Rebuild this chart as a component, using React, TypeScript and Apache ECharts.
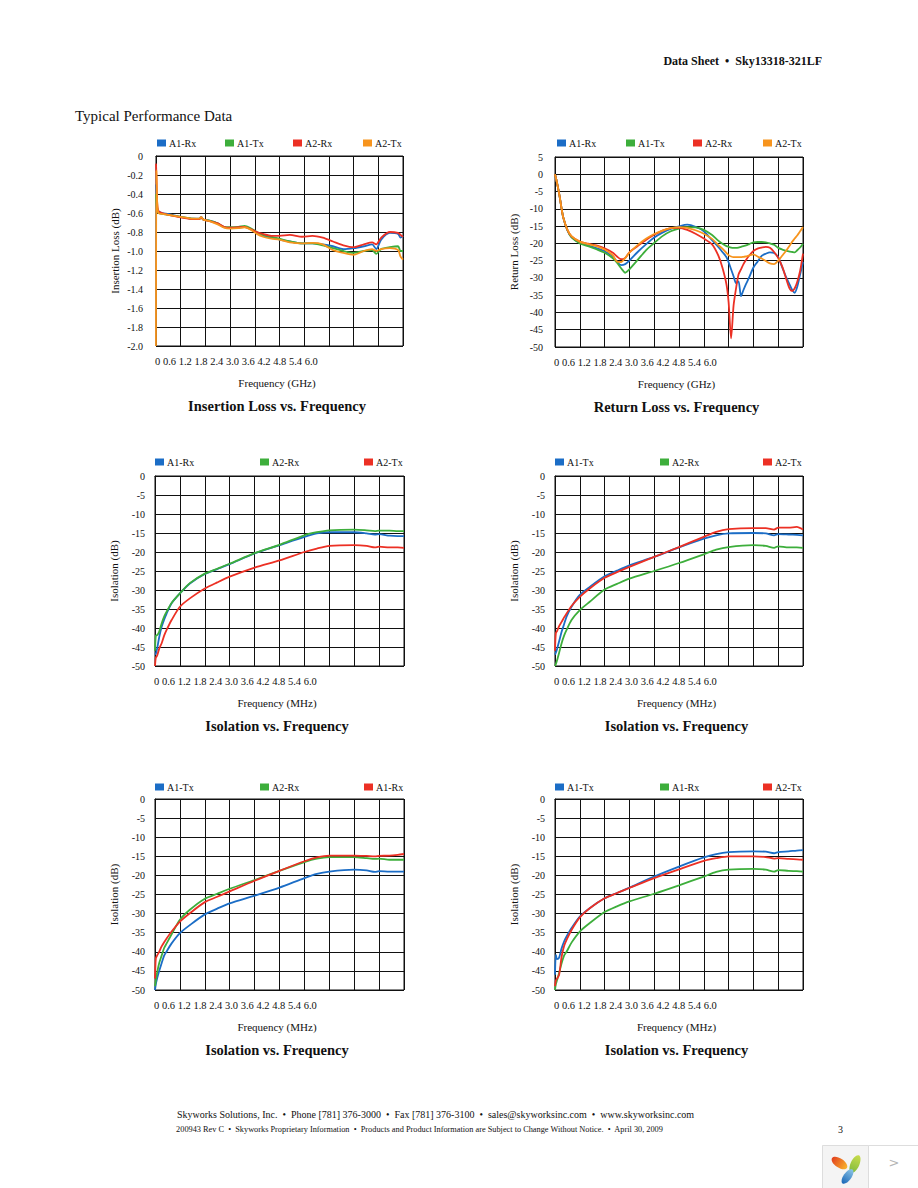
import React, { useEffect, useRef } from 'react';
import * as echarts from 'echarts';

// ---------- data ----------
const tickLabels = ['0', '0.6', '1.2', '1.8', '2.4', '3.0', '3.6', '4.2', '4.8', '5.4', '6.0'];

// Insertion loss (dB) vs frequency
const ilFreq = [0, 0.01, 0.03, 0.06, 0.15, 0.3, 0.6, 0.9, 1.05, 1.1, 1.15, 1.3, 1.5, 1.65, 1.8, 2.0, 2.15, 2.3, 2.45, 2.6, 2.8, 3.0, 3.25, 3.55, 3.8, 4.05, 4.3, 4.55, 4.8, 5.05, 5.25, 5.35, 5.47, 5.68, 5.88, 5.94, 6.0];
const ilA1Rx = [-0.3, -0.45, -0.55, -0.58, -0.6, -0.61, -0.64, -0.66, -0.66, -0.64, -0.67, -0.68, -0.71, -0.75, -0.76, -0.755, -0.745, -0.77, -0.81, -0.84, -0.86, -0.88, -0.9, -0.92, -0.92, -0.93, -0.95, -0.98, -0.97, -0.95, -0.93, -0.98, -0.88, -0.81, -0.82, -0.86, -0.84];
const ilA1Tx = [-0.4, -0.5, -0.58, -0.6, -0.61, -0.62, -0.64, -0.66, -0.665, -0.65, -0.67, -0.68, -0.71, -0.745, -0.75, -0.745, -0.735, -0.76, -0.8, -0.83, -0.85, -0.87, -0.9, -0.92, -0.92, -0.94, -0.97, -1.0, -1.02, -1.0, -0.99, -1.03, -0.98, -0.96, -0.95, -1.0, -1.0];
const ilA2Rx = [-0.08, -0.2, -0.5, -0.58, -0.6, -0.62, -0.645, -0.665, -0.665, -0.65, -0.67, -0.685, -0.71, -0.745, -0.755, -0.75, -0.745, -0.77, -0.8, -0.82, -0.84, -0.84, -0.83, -0.85, -0.84, -0.86, -0.9, -0.94, -0.96, -0.93, -0.91, -0.93, -0.86, -0.8, -0.81, -0.83, -0.85];
const ilA2Tx = [-2.0, -0.15, -0.5, -0.6, -0.61, -0.62, -0.64, -0.66, -0.66, -0.64, -0.67, -0.685, -0.72, -0.755, -0.765, -0.76, -0.75, -0.775, -0.82, -0.85, -0.87, -0.88, -0.91, -0.92, -0.915, -0.93, -0.99, -1.02, -1.04, -1.0, -0.98, -1.0, -0.98, -0.97, -0.99, -1.06, -1.09];

// Return loss (dB) vs frequency
const rlFreq = [0, 0.04, 0.08, 0.12, 0.16, 0.2, 0.3, 0.4, 0.6, 0.8, 1.0, 1.2, 1.4, 1.5, 1.6, 1.7, 1.8, 2.0, 2.2, 2.4, 2.6, 2.8, 3.0, 3.2, 3.4, 3.6, 3.8, 3.95, 4.05, 4.15, 4.2, 4.26, 4.32, 4.38, 4.44, 4.5, 4.56, 4.62, 4.7, 4.8, 4.9, 5.0, 5.1, 5.2, 5.3, 5.4, 5.5, 5.6, 5.68, 5.74, 5.8, 5.86, 5.93, 6.0];
const rlA1Rx = [0, -2, -4.3, -7, -10, -12.5, -16.2, -18.2, -19.8, -20.6, -21.4, -22.3, -23.8, -25.3, -26.3, -26, -25, -22.5, -20.3, -18.3, -16.9, -15.8, -15.1, -14.6, -15.2, -16.5, -19.1, -21, -22.5, -24, -25.5, -27.5, -29.5, -31.5, -31, -35.3, -33.5, -31.8, -29.8, -27, -25.3, -23.6, -23, -22.6, -22.8, -24, -27, -30, -32, -33.5, -34.3, -32.6, -29, -25.4];
const rlA1Tx = [0, -2, -4.3, -7, -10, -12.5, -16.2, -18.3, -20, -20.8, -21.7, -22.7, -24.3, -25.6, -27.2, -28.5, -27.5, -24.8, -22, -19.9, -17.9, -16.5, -15.7, -15.3, -15.4, -16.1, -17.6, -19.2, -20.1, -20.8, -21, -21.2, -21.3, -21.3, -21.2, -21, -20.8, -20.6, -20.2, -19.7, -19.6, -19.6, -19.7, -20, -20.4, -21.3, -21.8, -22.2, -22.4, -22.5, -22.6, -22, -21.2, -20.1];
const rlA2Rx = [0, -2, -4.3, -7, -10, -12.5, -16.1, -18, -19.5, -20.1, -20.6, -21.4, -22.7, -23.8, -24.6, -24.2, -22.6, -20.8, -19, -17.5, -16.3, -15.6, -15.5, -16.1, -17.2, -18.6, -20.3, -23.5, -27, -32, -37, -47.5, -38, -33, -29, -27.5, -26, -24.8, -23.5, -22.2, -21.5, -21.2, -21, -21.3, -22.5, -24.2, -26.8, -30.5, -33.2, -33.8, -33, -31.2, -28, -23];
const rlA2Tx = [0, -2, -4.3, -7, -10, -12.5, -16, -17.9, -19.5, -20.2, -20.8, -21.8, -23.5, -25.3, -25.4, -24.2, -22.7, -20.5, -18.7, -17.3, -16.3, -15.6, -15.3, -15.5, -16.2, -17.2, -18.7, -20.5, -21.5, -22.8, -23.4, -23.8, -24, -24, -24, -24, -23.9, -23.8, -23.5, -23.2, -23.8, -24.4, -25.1, -25.8, -26, -25, -23.5, -22, -20.6, -19.5, -18.6, -17.7, -16.5, -15.3];

// Isolation (dB) vs frequency
const isoFreq = [0, 0.02, 0.05, 0.1, 0.16, 0.22, 0.28, 0.4, 0.6, 0.84, 1.2, 1.5, 1.8, 2.4, 3.0, 3.6, 3.9, 4.2, 4.8, 5.1, 5.3, 5.4, 5.65, 5.85, 6.0];
// panel 3
const iso3A1Rx = [-47, -46.8, -45.5, -42.5, -39.7, -37.8, -36.2, -33.5, -30.9, -28.3, -25.8, -24.5, -23.2, -20.4, -18.2, -16, -15.1, -14.8, -14.8, -15.1, -15.4, -15.3, -15.7, -15.8, -15.8];
const iso3A2Rx = [-46, -42, -41.9, -41, -38.8, -37, -35.7, -33.4, -30.9, -28.2, -25.7, -24.4, -23.1, -20.3, -18.1, -15.6, -14.8, -14.3, -14.1, -14.3, -14.5, -14.4, -14.4, -14.5, -14.5];
const iso3A2Tx = [-50, -47.8, -47.3, -45.5, -44, -42, -40.5, -37.9, -34.4, -32.2, -29.6, -28, -26.5, -24.1, -22.2, -20, -19.1, -18.4, -18.2, -18.4, -18.8, -18.6, -18.8, -18.8, -18.9];
// panel 4
const iso4A1Tx = [-47, -46.5, -45.5, -43.5, -41, -39, -37, -34.4, -31.3, -29.2, -26.4, -24.9, -23.5, -21.3, -18.8, -16.5, -15.6, -15.1, -15, -15.1, -15.6, -15.3, -15.4, -15.5, -15.6];
const iso4A2Rx = [-50, -49.5, -48.5, -46.5, -44, -42, -40.5, -37.9, -35.3, -33.1, -29.9, -28.4, -27, -25, -22.9, -20.6, -19.4, -18.7, -18.2, -18.4, -18.9, -18.5, -18.8, -18.8, -18.9];
const iso4A2Tx = [-46, -41.4, -40.8, -39.5, -38.4, -37.2, -36.2, -34.2, -31.8, -29.6, -26.8, -25.3, -23.9, -21.3, -18.7, -16, -14.7, -14, -13.7, -13.7, -14.1, -13.6, -13.6, -13.4, -14.1];
// panel 5
const iso5A1Tx = [-50, -48.5, -47, -45, -43, -41, -39.9, -37.8, -35.1, -33, -30.2, -28.7, -27.3, -25.3, -23.2, -20.7, -19.6, -19, -18.5, -18.7, -19.1, -18.9, -19, -19, -19];
const iso5A2Rx = [-49, -47.5, -45.5, -43, -41, -39, -37.8, -35.4, -31.6, -29, -26.1, -24.8, -23.5, -21.2, -18.8, -16.5, -15.6, -15.2, -15.2, -15.5, -15.7, -15.6, -15.9, -15.9, -15.9];
const iso5A1Rx = [-47, -41.7, -41, -40, -38.6, -37.5, -36.5, -34.7, -32.1, -29.9, -27, -25.6, -24.2, -21.4, -18.8, -16.3, -15.3, -14.8, -14.8, -14.9, -15, -14.9, -14.8, -14.6, -14.4];
// panel 6
const iso6A1Tx = [-46, -40.8, -41.9, -41.5, -39.1, -37.3, -36, -33.8, -30.8, -28.6, -26, -24.6, -23.2, -20.3, -17.7, -15.3, -14.4, -13.9, -13.7, -13.8, -14.2, -13.9, -13.7, -13.5, -13.4];
const iso6A1Rx = [-50, -48.5, -47.4, -45.5, -43, -41, -40, -37.6, -34.7, -32.5, -29.6, -28.1, -26.8, -24.8, -22.6, -20.3, -19.1, -18.5, -18.3, -18.5, -19, -18.6, -18.8, -18.9, -19];
const iso6A2Tx = [-49, -47.5, -47, -46, -41.3, -38.5, -36.9, -34.3, -31, -28.6, -26, -24.6, -23.3, -20.7, -18.4, -16.2, -15.5, -15, -15, -15.2, -15.6, -15.5, -15.7, -15.8, -15.9];

// ---------- styles / layout ----------
const FONT = '"Liberation Serif", "Times New Roman", Times, serif';
const BLUE = '#1b6dc6';
const GREEN = '#3dae3b';
const RED = '#ec3024';
const ORANGE = '#f7941d';
const INK = '#111111';

type S = { name: string; color: string; x: number[]; y: number[] };
type P = {
  left: number; top: number; width: number; height: number;
  min: number; max: number; step: number; dec: number; margin: number;
  yName: string; xName: string; title: string;
  legendY: number; legendX: number[]; series: S[];
};

const panels: P[] = [
  {
    left: 156, top: 156, width: 247, height: 190, min: -2, max: 0, step: 0.2, dec: 1, margin: 13,
    yName: 'Insertion Loss (dB)', xName: 'Frequency (GHz)', title: 'Insertion Loss vs. Frequency',
    legendY: 144, legendX: [157, 225, 293, 363],
    series: [
      { name: 'A1-Rx', color: BLUE, x: ilFreq, y: ilA1Rx },
      { name: 'A1-Tx', color: GREEN, x: ilFreq, y: ilA1Tx },
      { name: 'A2-Rx', color: RED, x: ilFreq, y: ilA2Rx },
      { name: 'A2-Tx', color: ORANGE, x: ilFreq, y: ilA2Tx },
    ],
  },
  {
    left: 555, top: 157, width: 248, height: 190, min: -50, max: 5, step: 5, dec: 0, margin: 12,
    yName: 'Return Loss (dB)', xName: 'Frequency (GHz)', title: 'Return Loss vs. Frequency',
    legendY: 144, legendX: [557, 626, 693, 763],
    series: [
      { name: 'A1-Rx', color: BLUE, x: rlFreq, y: rlA1Rx },
      { name: 'A1-Tx', color: GREEN, x: rlFreq, y: rlA1Tx },
      { name: 'A2-Rx', color: RED, x: rlFreq, y: rlA2Rx },
      { name: 'A2-Tx', color: ORANGE, x: rlFreq, y: rlA2Tx },
    ],
  },
  {
    left: 155, top: 476, width: 249, height: 190, min: -50, max: 0, step: 5, dec: 0, margin: 10,
    yName: 'Isolation (dB)', xName: 'Frequency (MHz)', title: 'Isolation vs. Frequency',
    legendY: 463, legendX: [155, 260, 364],
    series: [
      { name: 'A1-Rx', color: BLUE, x: isoFreq, y: iso3A1Rx },
      { name: 'A2-Rx', color: GREEN, x: isoFreq, y: iso3A2Rx },
      { name: 'A2-Tx', color: RED, x: isoFreq, y: iso3A2Tx },
    ],
  },
  {
    left: 555, top: 476, width: 248, height: 190, min: -50, max: 0, step: 5, dec: 0, margin: 10,
    yName: 'Isolation (dB)', xName: 'Frequency (MHz)', title: 'Isolation vs. Frequency',
    legendY: 463, legendX: [555, 660, 763],
    series: [
      { name: 'A1-Tx', color: BLUE, x: isoFreq, y: iso4A1Tx },
      { name: 'A2-Rx', color: GREEN, x: isoFreq, y: iso4A2Rx },
      { name: 'A2-Tx', color: RED, x: isoFreq, y: iso4A2Tx },
    ],
  },
  {
    left: 155, top: 799, width: 249, height: 191, min: -50, max: 0, step: 5, dec: 0, margin: 10,
    yName: 'Isolation (dB)', xName: 'Frequency (MHz)', title: 'Isolation vs. Frequency',
    legendY: 788, legendX: [155, 260, 364],
    series: [
      { name: 'A1-Tx', color: BLUE, x: isoFreq, y: iso5A1Tx },
      { name: 'A2-Rx', color: GREEN, x: isoFreq, y: iso5A2Rx },
      { name: 'A1-Rx', color: RED, x: isoFreq, y: iso5A1Rx },
    ],
  },
  {
    left: 555, top: 799, width: 248, height: 191, min: -50, max: 0, step: 5, dec: 0, margin: 10,
    yName: 'Isolation (dB)', xName: 'Frequency (MHz)', title: 'Isolation vs. Frequency',
    legendY: 788, legendX: [555, 660, 763],
    series: [
      { name: 'A1-Tx', color: BLUE, x: isoFreq, y: iso6A1Tx },
      { name: 'A1-Rx', color: GREEN, x: isoFreq, y: iso6A1Rx },
      { name: 'A2-Tx', color: RED, x: isoFreq, y: iso6A2Tx },
    ],
  },
];

function txt(text: string, x: number, y: number, size: number, opts: any = {}) {
  return {
    type: 'text',
    x,
    y,
    rotation: opts.rotation || 0,
    style: {
      text,
      fill: opts.fill || INK,
      font: `${opts.bold ? 'bold ' : ''}${size}px ${opts.family || FONT}`,
      textAlign: opts.align || 'left',
      textVerticalAlign: 'middle',
    },
  };
}

function buildOption() {
  const grid = panels.map((p) => ({
    left: p.left, top: p.top, width: p.width, height: p.height,
    show: true, borderColor: INK, borderWidth: 1, containLabel: false,
  }));
  const xAxis = panels.map((p, i) => ({
    gridIndex: i, type: 'value', min: 0, max: 6, interval: 0.6,
    axisLine: { show: true, lineStyle: { color: INK, width: 1 } },
    axisTick: { show: false },
    axisLabel: { show: false },
    splitLine: { show: true, lineStyle: { color: INK, width: 1 } },
  }));
  const yAxis = panels.map((p, i) => ({
    gridIndex: i, type: 'value', min: p.min, max: p.max, interval: p.step,
    name: p.yName, nameLocation: 'middle', nameRotate: 90, nameGap: 36,
    nameTextStyle: { fontFamily: FONT, fontSize: 11, color: INK },
    axisLine: { show: true, lineStyle: { color: INK, width: 1 } },
    axisTick: { show: false },
    axisLabel: {
      margin: p.margin, fontFamily: FONT, fontSize: 10, color: INK,
      formatter: (v: number) => (Math.abs(v) < 1e-9 ? '0' : v.toFixed(p.dec)),
    },
    splitLine: { show: true, lineStyle: { color: INK, width: 1 } },
  }));
  const legend: any[] = [];
  const series: any[] = [];
  panels.forEach((p, i) => {
    p.series.forEach((s, j) => {
      const id = `${i}|${s.name}`;
      legend.push({
        data: [id], left: p.legendX[j], top: p.legendY - 6, padding: 0, itemGap: 0,
        itemWidth: 9, itemHeight: 7, icon: 'rect', selectedMode: false,
        formatter: (n: string) => n.split('|')[1],
        textStyle: { fontFamily: FONT, fontSize: 10, color: INK, padding: [0, 0, 0, -2] },
      });
      series.push({
        type: 'line', name: id, xAxisIndex: i, yAxisIndex: i,
        showSymbol: false, symbol: 'none', smooth: 0.25,
        lineStyle: { width: 1.8, color: s.color },
        itemStyle: { color: s.color },
        data: s.x.map((x, k) => [x, s.y[k]]),
      });
    });
  });

  const elements: any[] = [];
  elements.push(txt('Data Sheet  \u2022  Sky13318-321LF', 822, 61, 12, { bold: true, align: 'right' }));
  elements.push(txt('Typical Performance Data', 75, 116, 15));
  panels.forEach((p) => {
    const bottom = p.top + p.height;
    const cx = p.left + p.width / 2 - 2.5;
    elements.push(txt(tickLabels.join(' '), p.left - 1, bottom + 15, 10.5));
    elements.push(txt(p.xName, cx, bottom + 36.5, 11, { align: 'center' }));
    elements.push(txt(p.title, cx, bottom + 59.5, 14.5, { bold: true, align: 'center' }));
  });
  elements.push(txt('Skyworks Solutions, Inc.  \u2022  Phone [781] 376-3000  \u2022  Fax [781] 376-3100  \u2022  sales@skyworksinc.com  \u2022  www.skyworksinc.com', 435.5, 1114, 10, { align: 'center' }));
  elements.push(txt('200943 Rev C  \u2022  Skyworks Proprietary Information  \u2022  Products and Product Information are Subject to Change Without Notice.  \u2022  April 30, 2009', 419.5, 1129, 8.3, { align: 'center' }));
  elements.push(txt('3', 838, 1129, 10));

  // navigation widget (bottom right)
  elements.push({ type: 'rect', shape: { x: 822.5, y: 1145.5, width: 46, height: 45 }, style: { fill: '#f4f4f4', stroke: '#dddddd', lineWidth: 1 } });
  elements.push({ type: 'rect', shape: { x: 868.5, y: 1145.5, width: 52, height: 45 }, style: { fill: '#ffffff', stroke: '#dddddd', lineWidth: 1 } });
  elements.push(txt('>', 894, 1162, 13, { fill: '#b5b5b5', family: '"DejaVu Sans", sans-serif', align: 'center' }));
  elements.push({
    type: 'ellipse', x: 839.5, y: 1163, rotation: -0.6, shape: { cx: 0, cy: 0, rx: 9, ry: 4.6 },
    style: { fill: { type: 'linear', x: 0, y: 0, x2: 1, y2: 0, colorStops: [{ offset: 0, color: '#e2401f' }, { offset: 1, color: '#f9b52c' }] } },
  });
  elements.push({
    type: 'ellipse', x: 855, y: 1164, rotation: 1.15, shape: { cx: 0, cy: 0, rx: 9.5, ry: 4.4 },
    style: { fill: { type: 'linear', x: 0, y: 0, x2: 1, y2: 0, colorStops: [{ offset: 0, color: '#7fba3c' }, { offset: 1, color: '#c9dc4c' }] } },
  });
  elements.push({
    type: 'ellipse', x: 847.5, y: 1176.5, rotation: 0.95, shape: { cx: 0, cy: 0, rx: 8.5, ry: 4 },
    style: { fill: { type: 'linear', x: 0, y: 0, x2: 1, y2: 0, colorStops: [{ offset: 0, color: '#1a68b8' }, { offset: 1, color: '#8cc4e6' }] } },
  });

  return {
    animation: false,
    backgroundColor: '#ffffff',
    grid, xAxis, yAxis, legend, series,
    graphic: { elements },
  };
}

export default function App() {
  const ref = useRef<HTMLDivElement>(null);
  useEffect(() => {
    if (!ref.current) return;
    const chart = echarts.init(ref.current, undefined, { renderer: 'svg' });
    chart.setOption(buildOption() as any);
    return () => chart.dispose();
  }, []);
  return (
    <div
      ref={ref}
      style={{ position: 'absolute', left: 0, top: 0, width: 918, height: 1188, background: '#fff' }}
    />
  );
}
